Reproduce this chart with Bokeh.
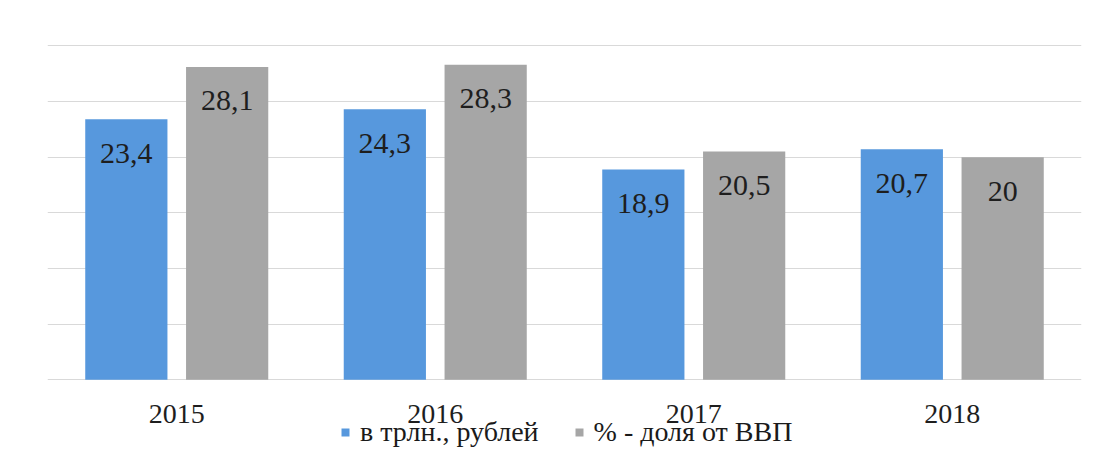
from bokeh.plotting import figure
from bokeh.models import ColumnDataSource, Range1d, FactorRange, LabelSet, Legend, LegendItem, FixedTicker
from bokeh.core.properties import value
from bokeh.transform import dodge
from bokeh.embed import file_html
from bokeh.resources import INLINE

years = ["2015", "2016", "2017", "2018"]
trln = [23.4, 24.3, 18.9, 20.7]
share = [28.1, 28.3, 20.5, 20.0]
trln_labels = ["23,4", "24,3", "18,9", "20,7"]
share_labels = ["28,1", "28,3", "20,5", "20"]
series_names = ["в трлн., рублей", "% - доля от ВВП"]
y_ticks = [0, 5, 10, 15, 20, 25, 30]

src = ColumnDataSource(dict(years=years, trln=trln, share=share,
                            base=[0] * len(years),
                            trln_labels=trln_labels, share_labels=share_labels))

p = figure(x_range=FactorRange(*years), y_range=Range1d(-6.18, 30.3),
           width=1085, height=448, output_backend="svg", toolbar_location=None,
           min_border_left=47, min_border_right=4, min_border_top=42, min_border_bottom=0)

BLUE = "#5798dd"
GRAY = "#a6a6a6"
FONT = "Liberation Serif"

r1 = p.vbar(x=dodge("years", -0.195, range=p.x_range), top="trln", width=0.318,
            source=src, fill_color=BLUE, line_color=None)
r2 = p.vbar(x=dodge("years", 0.195, range=p.x_range), top="share", width=0.318,
            source=src, fill_color=GRAY, line_color=None)

common = dict(source=src, text_align="center", text_baseline="middle",
              text_font=value(FONT), text_color="#1e1e1e")
p.add_layout(LabelSet(x=dodge("years", -0.195, range=p.x_range), y="trln", text="trln_labels",
                      y_offset=-34, text_font_size="30px", **common))
p.add_layout(LabelSet(x=dodge("years", 0.195, range=p.x_range), y="share", text="share_labels",
                      y_offset=-34, text_font_size="30px", **common))
# category labels under the baseline
p.add_layout(LabelSet(x="years", y="base", text="years", y_offset=-34,
                      text_font_size="28px", **common))

p.outline_line_color = None
p.xgrid.grid_line_color = None
p.ygrid.grid_line_color = "#d9d9d9"
p.ygrid.grid_line_width = 1
p.yaxis.ticker = FixedTicker(ticks=y_ticks)
p.ygrid.ticker = FixedTicker(ticks=y_ticks)
p.yaxis.visible = False
p.xaxis.visible = False
p.x_range.range_padding = 0

legend = Legend(items=[LegendItem(label=series_names[0], renderers=[r1]),
                       LegendItem(label=series_names[1], renderers=[r2])],
                location=(293, 0), orientation="horizontal",
                label_text_font=FONT, label_text_font_size="28px", label_text_color="#1a1a1a",
                glyph_width=10, glyph_height=10, label_standoff=10, spacing=35,
                padding=0, margin=0, border_line_color=None, background_fill_alpha=0)
p.add_layout(legend, "center")

open("out.html", "w").write(file_html(p, INLINE))
